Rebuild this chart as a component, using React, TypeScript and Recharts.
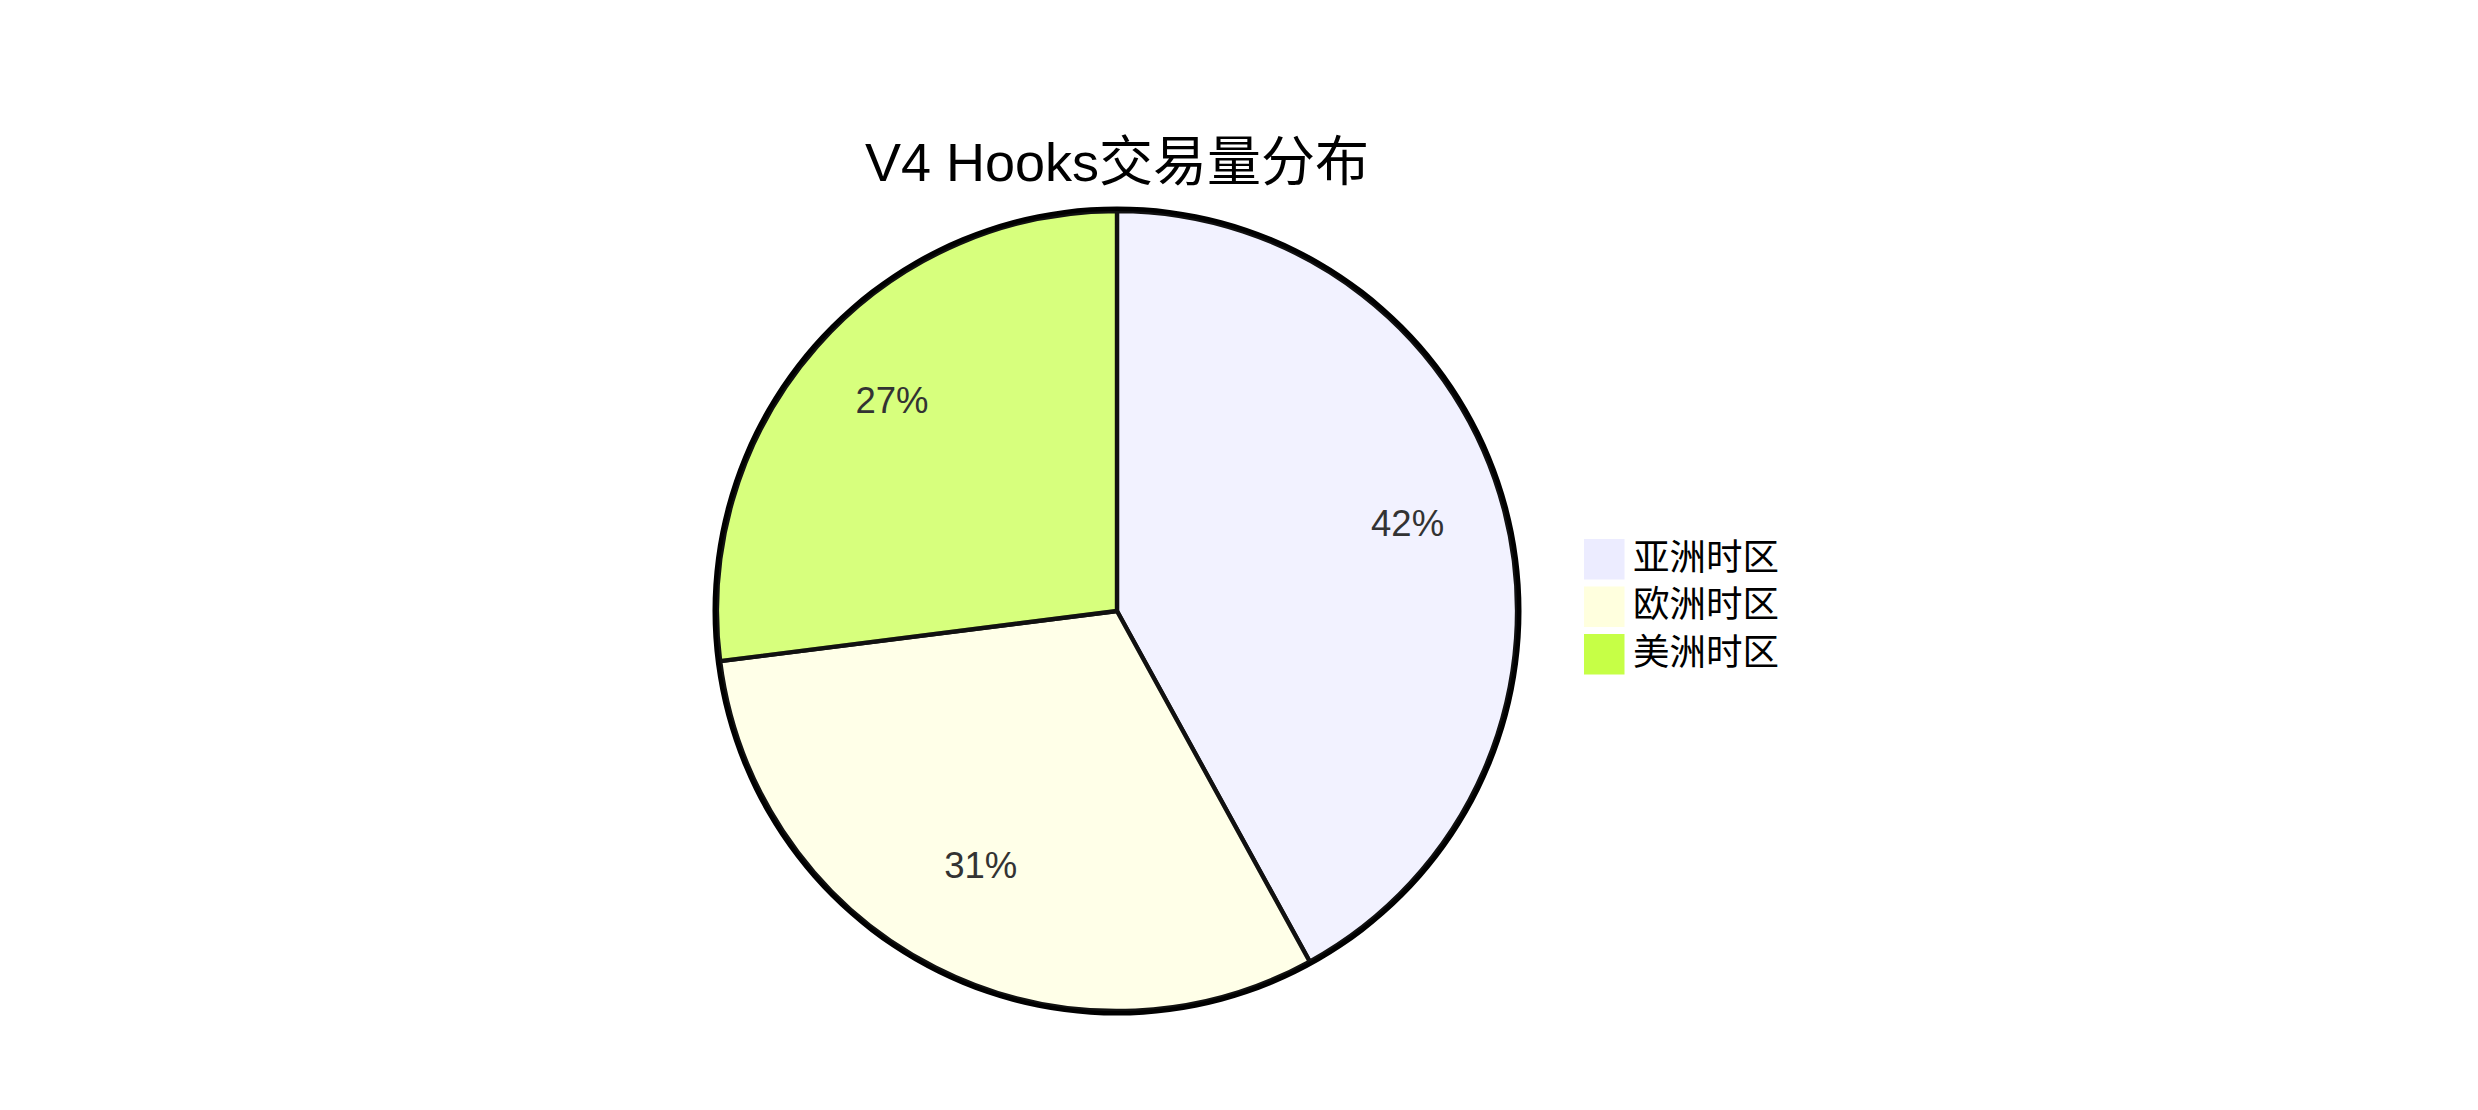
import React from "react";
import { Cell, Legend, Pie, PieChart } from "recharts";

const zones = ["亚洲时区", "欧洲时区", "美洲时区"];
const shares = [42, 31, 27];
const zoneColors = ["#ECECFF", "#FFFFDE", "#C6FF46"];

const title = "V4 Hooks交易量分布";

const data = zones.map((name, i) => ({ name, value: shares[i] }));
const ring = [{ name: "total", value: shares.reduce((a, b) => a + b, 0) }];

const RADIAN = Math.PI / 180;
const latinFont = "'Liberation Sans', Arial, 'Noto Sans CJK SC', sans-serif";
const cjkFont = "'Noto Sans CJK SC', 'Liberation Sans', sans-serif";

function renderLabel(props: any) {
  const { cx, cy, midAngle, outerRadius, percent } = props;
  const r = outerRadius * 0.75;
  const x = cx + r * Math.cos(-midAngle * RADIAN);
  const y = cy + r * Math.sin(-midAngle * RADIAN);
  return (
    <text
      x={x}
      y={y}
      textAnchor="middle"
      fill="#333"
      style={{ fontFamily: latinFont, fontSize: 36.5 }}
    >
      {`${Math.round(percent * 100)}%`}
    </text>
  );
}

function LegendBox({ payload }: any) {
  const items = (payload || []).filter((p: any) => p.type !== "none");
  const step = 47.5;
  return (
    <svg width={260} height={items.length * step + 4} style={{ overflow: "visible" }}>
      {items.map((p: any, i: number) => (
        <g key={p.value} transform={`translate(1, ${i * step + 1})`}>
          <rect
            width={38.5}
            height={38.5}
            fill={zoneColors[zones.indexOf(p.value)] ?? p.color}
            stroke={zoneColors[zones.indexOf(p.value)] ?? p.color}
            strokeWidth={2}
          />
          <text
            x={48}
            y={29.5}
            fill="#000"
            style={{ fontFamily: cjkFont, fontSize: 36.5 }}
          >
            {p.value}
          </text>
        </g>
      ))}
    </svg>
  );
}

export default function App() {
  return (
    <div style={{ position: "relative", width: 2462, height: 1094, background: "#fff" }}>
      <PieChart
        width={2462}
        height={1094}
        margin={{ top: 0, right: 0, bottom: 0, left: 0 }}
      >
        <Pie
          data={data}
          dataKey="value"
          nameKey="name"
          cx={1109}
          cy={603}
          outerRadius={400}
          startAngle={90}
          endAngle={-270}
          stroke="#111"
          strokeWidth={4.3}
          label={renderLabel}
          labelLine={false}
          isAnimationActive={false}
        >
          {data.map((d, i) => (
            <Cell key={d.name} fill={zoneColors[i]} fillOpacity={0.7} />
          ))}
        </Pie>
        <Pie
          data={ring}
          dataKey="value"
          cx={1109}
          cy={603}
          innerRadius={400}
          outerRadius={404.5}
          fill="#000"
          stroke="none"
          legendType="none"
          isAnimationActive={false}
        />
        <Legend
          content={<LegendBox />}
          wrapperStyle={{ position: "absolute", left: 1576, top: 531, width: 260 }}
        />
      </PieChart>
      <svg
        width={2462}
        height={230}
        style={{ position: "absolute", left: 0, top: 0, pointerEvents: "none" }}
      >
        <text
          x={1109}
          y={173}
          textAnchor="middle"
          fill="#000"
          style={{ fontFamily: latinFont, fontSize: 54 }}
        >
          {title}
        </text>
      </svg>
    </div>
  );
}
